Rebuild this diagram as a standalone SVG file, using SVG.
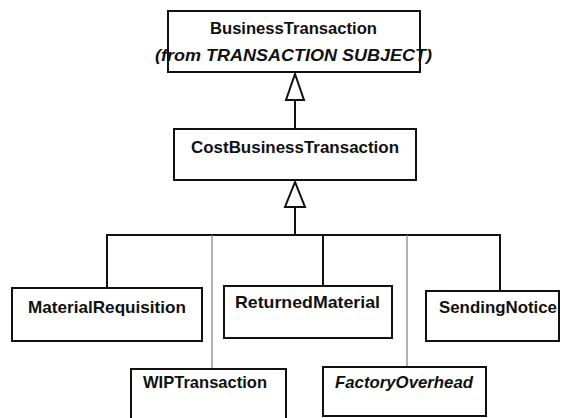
<svg xmlns="http://www.w3.org/2000/svg" width="564" height="418" viewBox="0 0 564 418">
  <style>
    .box { fill: #ffffff; stroke: #111111; stroke-width: 2; }
    .lbl { font-family: "Liberation Sans", Arial, sans-serif; font-weight: bold; font-size: 17px; fill: #111111; }
    .it { font-style: italic; }
    .conn { stroke: #111111; stroke-width: 2; fill: none; }
    .thin { stroke: #808080; stroke-width: 1.2; fill: none; }
    .head { fill: #ffffff; stroke: #111111; stroke-width: 2; stroke-linejoin: miter; }
  </style>
  <rect x="0" y="0" width="564" height="418" fill="#ffffff"/>

  <g id="connectors">
    <line class="conn" x1="295" y1="100" x2="295" y2="129"/>
    <polygon class="head" points="295,74 286,100 304,100"/>
    <line class="conn" x1="295" y1="207" x2="295" y2="235"/>
    <polygon class="head" points="295,182 285,207 305,207"/>
    <line class="conn" x1="106" y1="235" x2="501" y2="235"/>
    <line class="conn" x1="107" y1="235" x2="107" y2="288"/>
    <line class="conn" x1="323" y1="235" x2="323" y2="286"/>
    <line class="conn" x1="500" y1="235" x2="500" y2="291"/>
    <line class="thin" x1="212" y1="235" x2="212" y2="369"/>
    <line class="thin" x1="407" y1="235" x2="407" y2="367"/>
  </g>

  <g id="BusinessTransaction">
    <rect class="box" x="168" y="11" width="252" height="61"/>
    <text class="lbl" x="210" y="34" textLength="167" lengthAdjust="spacingAndGlyphs">BusinessTransaction</text>
    <text class="lbl it" x="155" y="61" textLength="277" lengthAdjust="spacingAndGlyphs">(from TRANSACTION SUBJECT)</text>
  </g>

  <g id="CostBusinessTransaction">
    <rect class="box" x="174" y="129" width="242" height="51"/>
    <text class="lbl" x="191" y="153" textLength="208" lengthAdjust="spacingAndGlyphs">CostBusinessTransaction</text>
  </g>

  <g id="MaterialRequisition">
    <rect class="box" x="12" y="288" width="190" height="53"/>
    <text class="lbl" x="28" y="313" textLength="158" lengthAdjust="spacingAndGlyphs">MaterialRequisition</text>
  </g>

  <g id="ReturnedMaterial">
    <rect class="box" x="224" y="286" width="168" height="52"/>
    <text class="lbl" x="235" y="308" textLength="145" lengthAdjust="spacingAndGlyphs">ReturnedMaterial</text>
  </g>

  <g id="SendingNotice">
    <rect class="box" x="426" y="291" width="133" height="50"/>
    <text class="lbl" x="439" y="313" textLength="118" lengthAdjust="spacingAndGlyphs">SendingNotice</text>
  </g>

  <g id="WIPTransaction">
    <rect class="box" x="131" y="369" width="155" height="60"/>
    <text class="lbl" x="143" y="388" textLength="124" lengthAdjust="spacingAndGlyphs">WIPTransaction</text>
  </g>

  <g id="FactoryOverhead">
    <rect class="box" x="323" y="367" width="163" height="49"/>
    <text class="lbl it" x="335" y="388" textLength="138" lengthAdjust="spacingAndGlyphs">FactoryOverhead</text>
  </g>
</svg>
